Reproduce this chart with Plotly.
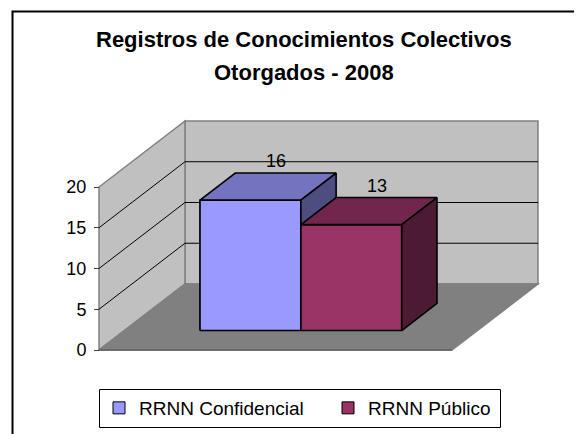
import plotly.graph_objects as go

# ---------------- data ----------------
title_line1 = "Registros de Conocimientos Colectivos"
title_line2 = "Otorgados - 2008"
series_names = ["RRNN Confidencial", "RRNN Público"]
values = [16, 13]
front_colors = ["#9999FF", "#993366"]
top_colors = ["#7373BF", "#73264D"]
side_colors = ["#4D4D80", "#4D1A33"]
tick_vals = [0, 5, 10, 15, 20]
grid_vals = [5, 10, 15]
y_max = 20

# ---------------- 3D projection settings ----------------
W = 1.0            # category width (x units)
GAP = 1.5          # gap width (fraction of bar width)
DX = 0.2436        # depth offset in x units
DY = 8.1           # depth offset in value units
D0, D1 = 0.295, 0.705  # bar depth span
b = W / (len(values) + GAP)

OFF = 8            # page body margin
FIG_W, FIG_H = 582 - OFF, 434 - OFF
PX_X = 353.0       # px per x unit
PX_Y = 8.15        # px per value unit
X0_PX, Y0_PX = 99 - OFF, 350 - OFF

FONT = "Liberation Sans, Arial, sans-serif"


def proj(x, v, d):
    return x + d * DX, v + d * DY


def fx(px):
    return (px - OFF) / FIG_W


def fy(py):
    return 1 - (py - OFF) / FIG_H


def poly_path(pts):
    return "M " + " L ".join(f"{x},{y}" for x, y in pts) + " Z"


fig = go.Figure()

# legend carriers: real bars for the front faces
for i, (name, v) in enumerate(zip(series_names, values)):
    xl = GAP / 2 * b + i * b
    fig.add_trace(go.Bar(
        x=[xl + b / 2 + D0 * DX], y=[v], base=[D0 * DY], width=[b],
        name=name, marker=dict(color=front_colors[i], line=dict(color="black", width=1)),
        hoverinfo="skip"))

# faces drawn as polygons in paint order
for i, v in enumerate(values):
    xl = GAP / 2 * b + i * b
    xr = xl + b
    faces = [
        ([proj(xl, 0, D0), proj(xr, 0, D0), proj(xr, v, D0), proj(xl, v, D0)], front_colors[i]),
        ([proj(xl, v, D0), proj(xr, v, D0), proj(xr, v, D1), proj(xl, v, D1)], top_colors[i]),
        ([proj(xr, 0, D0), proj(xr, v, D0), proj(xr, v, D1), proj(xr, 0, D1)], side_colors[i]),
    ]
    for pts, col in faces:
        pts = pts + [pts[0]]
        fig.add_trace(go.Scatter(
            x=[p[0] for p in pts], y=[p[1] for p in pts], mode="lines",
            fill="toself", fillcolor=col, line=dict(color="black", width=1.6),
            showlegend=False, hoverinfo="skip"))

shapes = []
# walls & floor
back_wall = [proj(0, 0, 1), proj(W, 0, 1), proj(W, y_max, 1), proj(0, y_max, 1)]
side_wall = [proj(0, 0, 0), proj(0, 0, 1), proj(0, y_max, 1), proj(0, y_max, 0)]
floor = [proj(0, 0, 0), proj(W, 0, 0), proj(W, 0, 1), proj(0, 0, 1)]
for pts, col in [(back_wall, "#C0C0C0"), (side_wall, "#C0C0C0"), (floor, "#808080")]:
    shapes.append(dict(type="path", path=poly_path(pts), xref="x", yref="y",
                       fillcolor=col, line=dict(color="#808080", width=1.5), layer="below"))
# floor front edge
shapes.append(dict(type="line", xref="x", yref="y", x0=0, y0=0, x1=W, y1=0,
                   line=dict(color="#606060", width=1.5), layer="below"))
# gridlines
for v in grid_vals:
    (ax, ay), (bx, by) = proj(0, v, 0), proj(0, v, 1)
    (cx, cy) = proj(W, v, 1)
    shapes.append(dict(type="path", path=f"M {ax},{ay} L {bx},{by} L {cx},{cy}",
                       xref="x", yref="y", line=dict(color="black", width=1), layer="below"))
# outer border
shapes.append(dict(type="rect", xref="paper", yref="paper", x0=fx(12.5), x1=1.05,
                   y0=-0.05, y1=fy(11.5), line=dict(color="black", width=2)))
# legend border
shapes.append(dict(type="rect", xref="paper", yref="paper", x0=fx(99.5), x1=fx(500.5),
                   y0=fy(427.5), y1=fy(389.5), line=dict(color="black", width=1)))

annotations = [
    dict(text=f"<b>{title_line1}</b>", x=fx(303.5), y=fy(39.5), xref="paper", yref="paper",
         showarrow=False, xanchor="center", yanchor="middle",
         font=dict(family=FONT, size=22, color="black")),
    dict(text=f"<b>{title_line2}</b>", x=fx(303.5), y=fy(72.5), xref="paper", yref="paper",
         showarrow=False, xanchor="center", yanchor="middle",
         font=dict(family=FONT, size=22, color="black")),
]
for i, v in enumerate(values):
    xl = GAP / 2 * b + i * b
    lx, ly = proj(xl + b / 2, v, 0.59)
    annotations.append(dict(text=str(v), x=lx, y=v + D1 * DY, xref="x", yref="y",
                            showarrow=False, xanchor="center", yanchor="bottom",
                            font=dict(family=FONT, size=18, color="black")))

x_range = [-X0_PX / PX_X, (FIG_W - X0_PX) / PX_X]
y_range = [(Y0_PX - FIG_H) / PX_Y, Y0_PX / PX_Y]

fig.update_layout(
    width=FIG_W, height=FIG_H,
    margin=dict(l=0, r=0, t=0, b=0, pad=0),
    paper_bgcolor="white", plot_bgcolor="white",
    barmode="overlay",
    showlegend=True,
    legend=dict(orientation="h", x=fx(99), xanchor="left", y=fy(408), yanchor="middle",
                bgcolor="rgba(0,0,0,0)", borderwidth=0,
                font=dict(family=FONT, size=19, color="black"),
                entrywidth=184, entrywidthmode="pixels"),
    xaxis=dict(range=x_range, visible=False, fixedrange=True),
    yaxis=dict(range=y_range, anchor="free", position=(X0_PX) / FIG_W, side="left",
               tickvals=tick_vals, ticktext=[str(t) for t in tick_vals],
               ticks="outside", ticklen=5, tickcolor="#404040", tickwidth=1,
               showgrid=False, zeroline=False, showline=False, ticklabelstandoff=4,
               tickfont=dict(family=FONT, size=18, color="black"),
               fixedrange=True),
    shapes=shapes,
    annotations=annotations,
)

fig.write_html("out.html")
